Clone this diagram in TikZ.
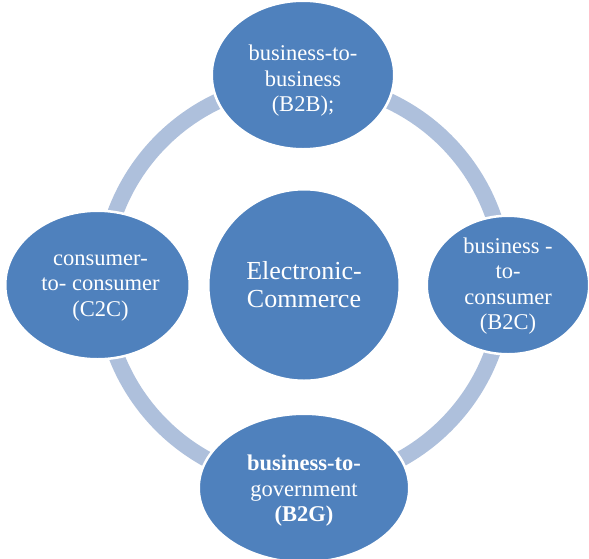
\documentclass[tikz,border=0pt]{standalone}
\usepackage{fontspec}
\setmainfont{Liberation Serif}
\usetikzlibrary{
	positioning,
	shapes.geometric
}
\definecolor{nodeblue}{RGB}{79,129,189}
\definecolor{ringblue}{RGB}{174,192,220}

\begin{document}
\begin{tikzpicture}[x=1pt, y=-1pt,
		bubble/.style={ellipse, fill=nodeblue, draw=white, line width=2.5pt, inner sep=0pt},
		bubbletext/.style={text=white, align=center, font=\fontsize{22.5}{25.5}\selectfont},
		ringline/.style={draw=ringblue, line width=16pt}]

		\useasboundingbox (0,0) rectangle (589,558);

		% ring behind the bubbles
		\coordinate (O) at (303.7, 283);
		\draw[ringline] (O) circle (201pt);

		% centre
		\node[bubble, minimum width=191.5pt, minimum height=191.5pt] (ec) at (304, 285) {};
		\node[bubbletext, font=\fontsize{26}{28}\selectfont] (ecText) at (ec) {Electronic-\\Commerce};

		% outer bubbles
		\node[bubble, minimum width=182.5pt, minimum height=148.5pt] (b2b) at (303, 75) {};
		\node[bubble, minimum width=162.5pt, minimum height=138.5pt] (b2c) at (508, 285) {};
		\node[bubble, minimum width=210.5pt, minimum height=148.5pt] (b2g) at (304, 488) {};
		\node[bubble, minimum width=184.5pt, minimum height=148.5pt] (c2c) at (97.5, 285) {};

		\node[bubbletext] (b2bText) at ([yshift=-6pt]b2b) {business-to-\\business\\(B2B);};
		\node[bubbletext] (b2cText) at ([yshift=-1pt]b2c) {business -\\to-\\consumer\\(B2C)};
		\node[bubbletext] (b2gText) at ([yshift=-3pt]b2g) {\textbf{business-to-}\\government\\\textbf{(B2G)}};
		\node[bubbletext] (c2cText) at ([xshift=3pt,yshift=-3pt]c2c) {consumer-\\to- consumer\\(C2C)};

	\end{tikzpicture}
\end{document}
